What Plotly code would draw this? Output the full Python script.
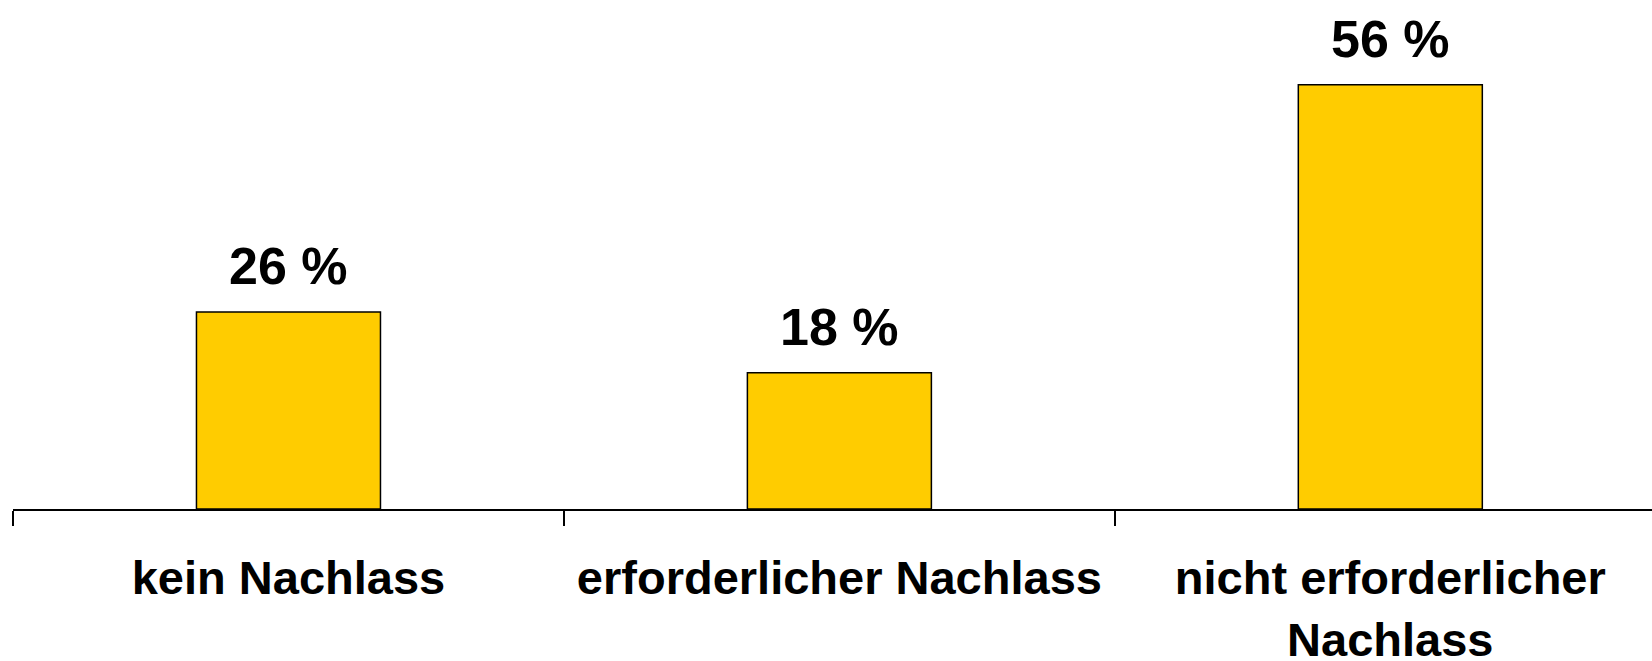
import plotly.graph_objects as go

kategorien = ["kein Nachlass", "erforderlicher Nachlass", "nicht erforderlicher<br>Nachlass"]
anteile = [26, 18, 56]
beschriftung = ["26 %", "18 %", "56 %"]

fig = go.Figure(data=[go.Bar(
    x=kategorien,
    y=anteile,
    width=0.334,
    marker_color='#FFCC00',
    marker_line=dict(color='black', width=1.5),
    showlegend=False,
    hoverinfo='skip',
)])

for k, v, t in zip(kategorien, anteile, beschriftung):
    fig.add_annotation(x=k, y=v, text=t, showarrow=False,
                       yanchor='bottom', yshift=15,
                       font=dict(family='Liberation Sans, Arial', size=52,
                                 color='black', weight='bold'))

fig.update_layout(
    autosize=False,
    width=1652,
    height=661,
    margin=dict(l=13, r=0, t=0, b=152),
    plot_bgcolor='white',
    paper_bgcolor='white',
)
fig.update_xaxes(
    range=[-0.5, 2.475],
    automargin=False,
    showline=True, linewidth=2, linecolor='black',
    ticks='outside', tickson='boundaries', ticklen=15, tickwidth=1.5, tickcolor='black',
    tickfont=dict(family='Liberation Sans, Arial', size=47, color='black', weight='bold'),
    ticklabelstandoff=27,
    showgrid=False,
)
fig.update_yaxes(
    range=[0, 67.2],
    visible=False,
    showgrid=False,
)

# drop the default 8px page margin so the figure fills the window
fig.write_html("out.html", config={'displayModeBar': False},
               post_script="document.body.style.margin='0';")
